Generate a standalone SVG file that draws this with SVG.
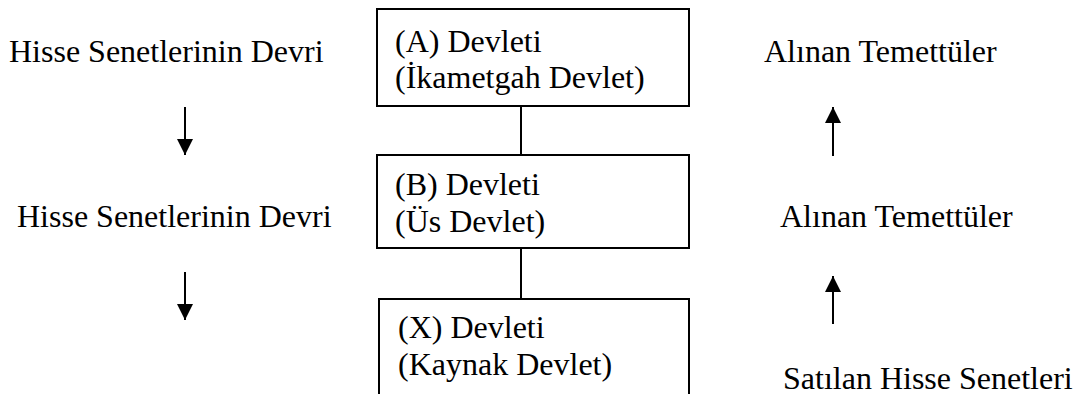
<svg xmlns="http://www.w3.org/2000/svg" width="1078" height="394" viewBox="0 0 1078 394">
  <defs>
    <style>
      text { font-family: "Liberation Serif", "Times New Roman", serif; font-size: 32px; fill: #000; }
      .box { fill: #fff; stroke: #000; stroke-width: 2; }
      .link { stroke: #000; stroke-width: 2; fill: none; }
      .flow { stroke: #000; stroke-width: 2; fill: none; }
    </style>
    <marker id="head" viewBox="0 0 16 16" refX="16" refY="8" markerWidth="16" markerHeight="16" markerUnits="userSpaceOnUse" orient="auto">
      <path d="M0,0 L16,8 L0,16 Z" fill="#000"/>
    </marker>
  </defs>
  <rect width="1078" height="394" fill="#fff"/>

  <!-- connectors between the state boxes and flow arrows -->
  <g id="connectors">
    <line class="link" x1="521" y1="106" x2="521" y2="155"/>
    <line class="link" x1="521" y1="248" x2="521" y2="299"/>
    <line class="flow" x1="185" y1="107" x2="185" y2="155" marker-end="url(#head)"/>
    <line class="flow" x1="185" y1="272" x2="185" y2="320" marker-end="url(#head)"/>
    <line class="flow" x1="833" y1="156" x2="833" y2="107" marker-end="url(#head)"/>
    <line class="flow" x1="833" y1="324" x2="833" y2="276" marker-end="url(#head)"/>
  </g>

  <g id="state-a">
    <rect class="box" x="377" y="9" width="312" height="97"/>
    <text x="395" y="52">(A) Devleti</text>
    <text x="395" y="88">(İkametgah Devlet)</text>
  </g>

  <g id="state-b">
    <rect class="box" x="377" y="155" width="312" height="93"/>
    <text x="395" y="195">(B) Devleti</text>
    <text x="395" y="232">(Üs Devlet)</text>
  </g>

  <g id="state-x">
    <rect class="box" x="379" y="299" width="310" height="110"/>
    <text x="398" y="338">(X) Devleti</text>
    <text x="398" y="375">(Kaynak Devlet)</text>
  </g>

  <g id="left-labels">
    <text x="9" y="62">Hisse Senetlerinin Devri</text>
    <text x="17" y="227">Hisse Senetlerinin Devri</text>
  </g>

  <g id="right-labels">
    <text x="764" y="62">Alınan Temettüler</text>
    <text x="780" y="227">Alınan Temettüler</text>
    <text x="783" y="389">Satılan Hisse Senetleri</text>
  </g>
</svg>
